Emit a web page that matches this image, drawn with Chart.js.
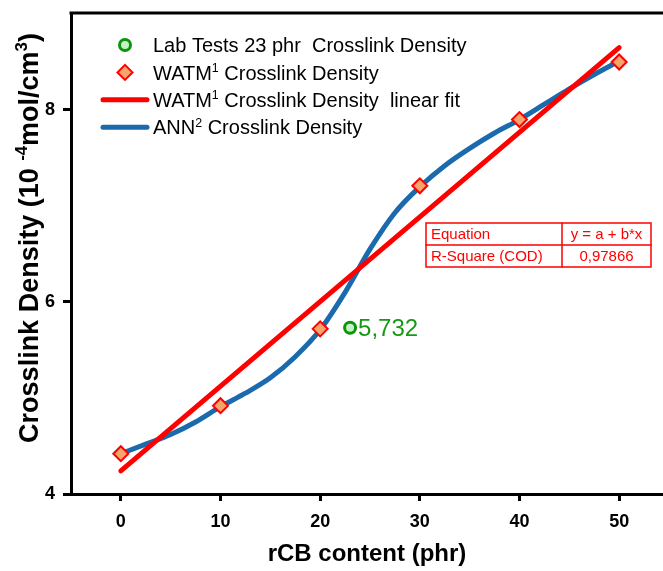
<!DOCTYPE html>
<html>
<head>
<meta charset="utf-8">
<script src="https://cdn.jsdelivr.net/npm/chart.js@4.4.1/dist/chart.umd.min.js"></script>
<style>
  html, body { margin: 0; padding: 0; background: #fff; overflow: hidden; }
  canvas { display: block; }
</style>
</head>
<body>
<canvas id="chart" width="663" height="571"></canvas>
<script>
/* ---------- data ---------- */
const xTicks = [0, 10, 20, 30, 40, 50];
const yTicks = [4, 6, 8];

const labX = [23];
const labY = [5.732];
const labText = '5,732';

const watmX = [0, 10, 20, 30, 40, 50];
const watmY = [4.42, 4.92, 5.72, 7.21, 7.90, 8.50];

const fitX = [0, 50];
const fitY = [4.24, 8.65];

const annX = [0, 2.5, 5, 7.5, 10, 12.5, 15, 17.5, 20, 22.5, 25, 27.5, 30, 32.5, 35, 37.5, 40, 42.5, 45, 47.5, 50];
const annY = [4.42, 4.52, 4.62, 4.75, 4.91, 5.05, 5.21, 5.43, 5.71, 6.10, 6.55, 6.93, 7.20, 7.42, 7.60, 7.76, 7.90, 8.06, 8.22, 8.37, 8.51];

const eqRows = [
  ['Equation', 'y = a + b*x'],
  ['R-Square (COD)', '0,97866']
];

/* ---------- styles ---------- */
const FONT = '"Liberation Sans", Arial, sans-serif';
const GREEN = '#0a960a';
const RED = '#ff0000';
const BLUE = '#1a6aad';
const ORANGE = '#f5a46c';

const pts = (xs, ys) => xs.map((x, i) => ({ x: x, y: ys[i] }));

/* text with superscripts */
function richWidth(ctx, parts, size, weight) {
  let w = 0;
  parts.forEach(p => {
    ctx.font = `${weight} ${p.sup ? size * 0.62 : size}px ${FONT}`;
    w += ctx.measureText(p.t).width;
  });
  return w;
}
function drawRich(ctx, parts, x, y, size, weight, color) {
  let cx = x;
  ctx.fillStyle = color;
  ctx.textBaseline = 'alphabetic';
  ctx.textAlign = 'left';
  parts.forEach(p => {
    ctx.font = `${weight} ${p.sup ? size * 0.62 : size}px ${FONT}`;
    ctx.fillText(p.t, cx, p.sup ? y - size * 0.38 : y);
    cx += ctx.measureText(p.t).width;
  });
}

const legendRows = [
  { kind: 'lab', parts: [{ t: 'Lab Tests 23 phr  Crosslink Density' }] },
  { kind: 'watm', parts: [{ t: 'WATM' }, { t: '1', sup: true }, { t: ' Crosslink Density' }] },
  { kind: 'fit', parts: [{ t: 'WATM' }, { t: '1', sup: true }, { t: ' Crosslink Density  linear fit' }] },
  { kind: 'ann', parts: [{ t: 'ANN' }, { t: '2', sup: true }, { t: ' Crosslink Density' }] }
];

const yTitleParts = [
  { t: 'Crosslink Density (10 ' }, { t: '-4', sup: true }, { t: 'mol/cm' }, { t: '3', sup: true }, { t: ')' }
];

const extras = {
  id: 'extras',
  afterDraw(chart) {
    const ctx = chart.ctx;
    const a = chart.chartArea;
    const xs = chart.scales.x, ys = chart.scales.y;
    ctx.save();

    // top frame line
    ctx.strokeStyle = '#000';
    ctx.lineWidth = 3;
    ctx.beginPath();
    ctx.moveTo(a.left - 1.5, a.top);
    ctx.lineTo(a.right, a.top);
    ctx.stroke();

    // y title
    const ts = 27;
    const tw = richWidth(ctx, yTitleParts, ts, 'bold');
    ctx.save();
    ctx.translate(28, 238);
    ctx.rotate(-Math.PI / 2);
    drawRich(ctx, yTitleParts, -tw / 2, ts * 0.36, ts, 'bold', '#000');
    ctx.restore();

    // legend
    const ls = 20;
    legendRows.forEach((r, i) => {
      const cy = 45 + i * 27.4;
      if (r.kind === 'lab') {
        ctx.fillStyle = '#c8f0c8'; ctx.strokeStyle = GREEN; ctx.lineWidth = 3;
        Chart.helpers.drawPoint(ctx, { pointStyle: 'circle', radius: 5.5, borderWidth: 3 }, 125, cy);
      } else if (r.kind === 'watm') {
        ctx.fillStyle = ORANGE; ctx.strokeStyle = RED; ctx.lineWidth = 2;
        Chart.helpers.drawPoint(ctx, { pointStyle: 'rectRot', radius: 7.5, borderWidth: 2 }, 125, cy);
      } else {
        ctx.strokeStyle = r.kind === 'fit' ? RED : BLUE;
        ctx.lineWidth = 5; ctx.lineCap = 'round';
        ctx.beginPath(); ctx.moveTo(103, cy); ctx.lineTo(147, cy); ctx.stroke();
      }
      drawRich(ctx, r.parts, 153, cy + ls * 0.36, ls, 'normal', '#000');
    });

    // lab value label
    const px = xs.getPixelForValue(labX[0]);
    const py = ys.getPixelForValue(labY[0]);
    ctx.font = `24px ${FONT}`;
    ctx.fillStyle = '#169a16';
    ctx.textAlign = 'left';
    ctx.textBaseline = 'alphabetic';
    ctx.fillText(labText, px + 8, py + 24 * 0.36);

    // equation table
    const tx0 = 426, tx1 = 651, tmid = 562, ty0 = 223, rh = 22;
    ctx.fillStyle = '#fff';
    ctx.fillRect(tx0, ty0, tx1 - tx0, rh * eqRows.length);
    ctx.strokeStyle = RED; ctx.lineWidth = 1.5;
    ctx.strokeRect(tx0, ty0, tx1 - tx0, rh * eqRows.length);
    ctx.beginPath();
    ctx.moveTo(tmid, ty0); ctx.lineTo(tmid, ty0 + rh * eqRows.length);
    for (let i = 1; i < eqRows.length; i++) { ctx.moveTo(tx0, ty0 + rh * i); ctx.lineTo(tx1, ty0 + rh * i); }
    ctx.stroke();
    ctx.font = `15px ${FONT}`;
    ctx.fillStyle = RED;
    ctx.textBaseline = 'middle';
    eqRows.forEach((row, i) => {
      const cy = ty0 + rh * i + rh / 2 + 1;
      ctx.textAlign = 'left';
      ctx.fillText(row[0], tx0 + 5, cy);
      ctx.textAlign = 'center';
      ctx.fillText(row[1], (tmid + tx1) / 2, cy);
    });

    ctx.restore();
  }
};

Chart.defaults.font.family = FONT;
Chart.defaults.color = '#000';

new Chart(document.getElementById('chart'), {
  type: 'scatter',
  data: {
    datasets: [
      {
        label: 'Lab Tests 23 phr  Crosslink Density',
        data: pts(labX, labY),
        pointStyle: 'circle',
        pointRadius: 5.5,
        pointBorderWidth: 3,
        pointBorderColor: GREEN,
        pointBackgroundColor: '#c8f0c8'
      },
      {
        label: 'WATM1 Crosslink Density',
        data: pts(watmX, watmY),
        pointStyle: 'rectRot',
        pointRadius: 7.5,
        pointBorderWidth: 2,
        pointBorderColor: RED,
        pointBackgroundColor: ORANGE
      },
      {
        label: 'WATM1 Crosslink Density  linear fit',
        data: pts(fitX, fitY),
        showLine: true,
        pointRadius: 0,
        borderColor: RED,
        borderWidth: 5,
        borderCapStyle: 'round'
      },
      {
        label: 'ANN2 Crosslink Density',
        data: pts(annX, annY),
        showLine: true,
        pointRadius: 0,
        borderColor: BLUE,
        borderWidth: 5,
        borderCapStyle: 'round',
        cubicInterpolationMode: 'monotone'
      }
    ]
  },
  options: {
    responsive: false,
    animation: false,
    devicePixelRatio: 1,
    layout: { autoPadding: false, padding: { top: 13, right: 0, left: 0, bottom: 0 } },
    plugins: { legend: { display: false }, tooltip: { enabled: false } },
    scales: {
      x: {
        type: 'linear',
        min: -5,
        max: 54.4,
        afterFit: s => { s.height = 77; s.paddingLeft = 0; s.paddingRight = 0; },
        afterBuildTicks: s => { s.ticks = xTicks.map(v => ({ value: v })); },
        grid: { display: true, drawOnChartArea: false, drawTicks: true, tickLength: 7, tickWidth: 3, tickColor: '#000' },
        border: { display: true, width: 3, color: '#000' },
        ticks: { font: { size: 18, weight: 'bold' }, padding: 10, maxRotation: 0 },
        title: { display: true, text: 'rCB content (phr)', font: { size: 24, weight: 'bold' }, padding: { top: 0, bottom: 2 } }
      },
      y: {
        type: 'linear',
        min: 4,
        max: 9.01,
        afterFit: s => { s.width = 71; s.paddingTop = 0; s.paddingBottom = 0; },
        afterBuildTicks: s => { s.ticks = yTicks.map(v => ({ value: v })); },
        grid: { display: true, drawOnChartArea: false, drawTicks: true, tickLength: 8, tickWidth: 3, tickColor: '#000' },
        border: { display: true, width: 3, color: '#000' },
        ticks: { font: { size: 18, weight: 'bold' }, padding: 8 },
        title: { display: false }
      }
    }
  },
  plugins: [extras]
});
</script>
</body>
</html>
